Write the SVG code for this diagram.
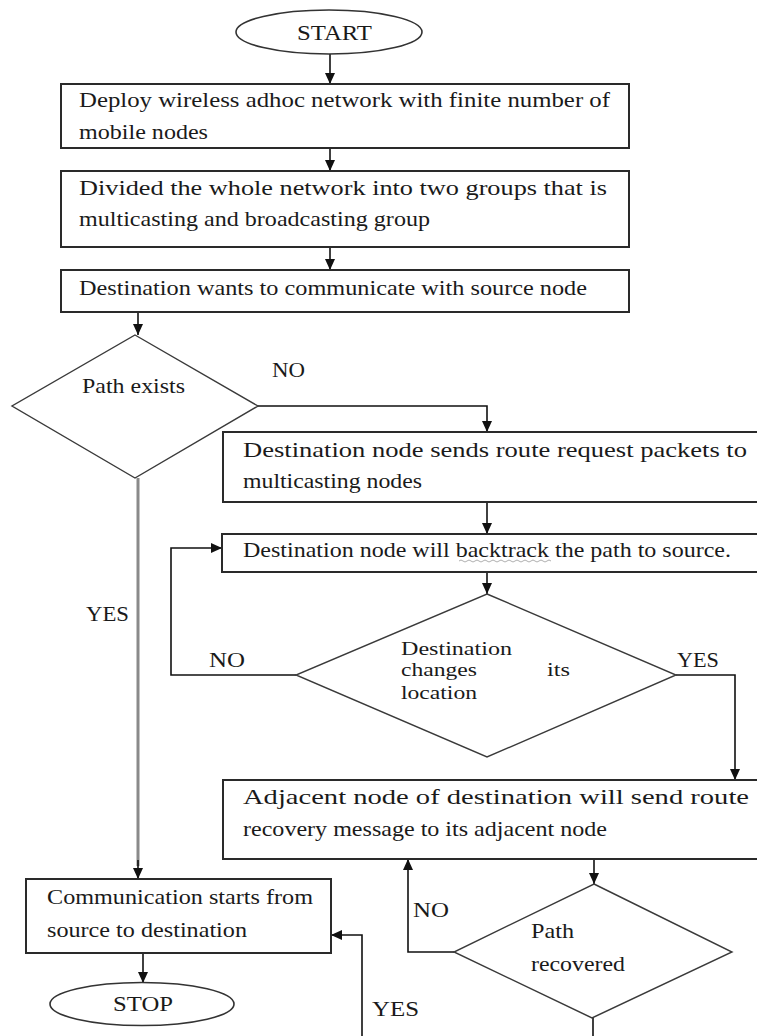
<svg xmlns="http://www.w3.org/2000/svg" width="757" height="1036" viewBox="0 0 757 1036">
<defs>
<marker id="arr" markerUnits="userSpaceOnUse" markerWidth="12" markerHeight="12" viewBox="0 0 12 12" refX="11" refY="6" orient="auto">
<path d="M0,1 L11,6 L0,11 Z" fill="#111"/>
</marker>
<style>
.box{fill:#fff;stroke:#2a2a2a;stroke-width:2}
.dia{fill:#fff;stroke:#3a3a3a;stroke-width:1.4}
.ell{fill:#fff;stroke:#333;stroke-width:1.6}
text{font-family:'Liberation Serif','Tinos','Times New Roman','DejaVu Serif',serif;fill:#1a1a1a}
.t{font-size:21px}
.s{font-size:19px}
.c{fill:none;stroke:#111;stroke-width:1.6}
.g{fill:none;stroke:#8a8a8a;stroke-width:3}
</style>
</defs>
<rect width="757" height="1036" fill="#fff"/>

<g id="connectors">
<path class="c" d="M330,54 V84" marker-end="url(#arr)"/>
<path class="c" d="M330,148 V171" marker-end="url(#arr)"/>
<path class="c" d="M330,247 V270" marker-end="url(#arr)"/>
<path class="c" d="M138,312 V335" marker-end="url(#arr)"/>
<path class="c" d="M258,406 H487 V432" marker-end="url(#arr)"/>
<path class="c" d="M487,502 V534" marker-end="url(#arr)"/>
<path class="c" d="M487,572 V594" marker-end="url(#arr)"/>
<path class="c" d="M296,675 H171 V548 H222" marker-end="url(#arr)"/>
<path class="c" d="M676,675 H735 V780" marker-end="url(#arr)"/>
<path class="c" d="M594,859 V884" marker-end="url(#arr)"/>
<path class="c" d="M454,952 H408 V859" marker-end="url(#arr)"/>
<path class="c" d="M593,1018 V1050 H362 V935 H331" marker-end="url(#arr)"/>
<path class="g" d="M138,478 V866"/>
<path class="c" d="M138,860 V879" marker-end="url(#arr)"/>
<path class="c" d="M143,953 V983" marker-end="url(#arr)"/>
</g>

<g id="start">
<ellipse class="ell" cx="329" cy="32" rx="93" ry="22"/>
<text class="t" x="297" y="40" font-family="Liberation Serif, serif" textLength="75" lengthAdjust="spacingAndGlyphs">START</text>
</g>

<g id="deploy">
<rect class="box" x="61" y="84" width="568" height="64"/>
<text class="t" x="79" y="107" textLength="531" lengthAdjust="spacingAndGlyphs">Deploy wireless adhoc network with finite number of</text>
<text class="t" x="79" y="139" textLength="129" lengthAdjust="spacingAndGlyphs">mobile nodes</text>
</g>

<g id="divide">
<rect class="box" x="61" y="171" width="568" height="76"/>
<text class="t" x="79" y="195" textLength="528" lengthAdjust="spacingAndGlyphs">Divided the whole network into two groups that is</text>
<text class="t" x="79" y="226" textLength="351" lengthAdjust="spacingAndGlyphs">multicasting and broadcasting group</text>
</g>

<g id="wants">
<rect class="box" x="61" y="270" width="568" height="42"/>
<text class="t" x="79" y="295" textLength="508" lengthAdjust="spacingAndGlyphs">Destination wants to communicate with source node</text>
</g>

<g id="path-exists">
<polygon class="dia" points="135,335 258,406 135,478 12,406"/>
<text class="t" x="82" y="393" textLength="103" lengthAdjust="spacingAndGlyphs">Path exists</text>
</g>

<g id="route-request">
<rect class="box" x="223" y="432" width="545" height="70"/>
<text class="t" x="243" y="457" textLength="504" lengthAdjust="spacingAndGlyphs">Destination node sends route request packets to</text>
<text class="t" x="243" y="488" textLength="179" lengthAdjust="spacingAndGlyphs">multicasting nodes</text>
</g>

<g id="backtrack">
<rect class="box" x="222" y="534" width="546" height="38"/>
<text class="t" x="243" y="557" textLength="488" lengthAdjust="spacingAndGlyphs">Destination node will backtrack the path to source.</text>
<path d="M459,561 q2,-2 4,0 t4,0 t4,0 t4,0 t4,0 t4,0 t4,0 t4,0 t4,0 t4,0 t4,0 t4,0 t4,0 t4,0 t4,0 t4,0 t4,0 t4,0 t4,0 t4,0 t4,0 t4,0 t4,0" fill="none" stroke="#999" stroke-width="0.8"/>
</g>

<g id="changes-location">
<polygon class="dia" points="487,594 676,675 487,757 296,675"/>
<text class="s" x="401" y="655" textLength="111" lengthAdjust="spacingAndGlyphs">Destination</text>
<text class="s" x="401" y="676" textLength="76" lengthAdjust="spacingAndGlyphs">changes</text>
<text class="s" x="547" y="676" textLength="23" lengthAdjust="spacingAndGlyphs">its</text>
<text class="s" x="401" y="699" textLength="76" lengthAdjust="spacingAndGlyphs">location</text>
</g>

<g id="adjacent">
<rect class="box" x="223" y="780" width="545" height="79"/>
<text class="t" x="243" y="804" textLength="506" lengthAdjust="spacingAndGlyphs">Adjacent node of destination will send route</text>
<text class="t" x="243" y="836" textLength="364" lengthAdjust="spacingAndGlyphs">recovery message to its adjacent node</text>
</g>

<g id="path-recovered">
<polygon class="dia" points="594,884 732,952 592,1018 454,952"/>
<text class="t" x="531" y="938" textLength="43" lengthAdjust="spacingAndGlyphs">Path</text>
<text class="t" x="531" y="971" textLength="94" lengthAdjust="spacingAndGlyphs">recovered</text>
</g>

<g id="communication">
<rect class="box" x="26" y="879" width="305" height="74"/>
<text class="t" x="47" y="904" textLength="266" lengthAdjust="spacingAndGlyphs">Communication starts from</text>
<text class="t" x="47" y="937" textLength="200" lengthAdjust="spacingAndGlyphs">source to destination</text>
</g>

<g id="stop">
<ellipse class="ell" cx="142" cy="1004" rx="92" ry="21.5"/>
<text class="t" x="113" y="1011" textLength="60" lengthAdjust="spacingAndGlyphs">STOP</text>
</g>

<g id="labels">
<text class="t" x="272" y="377" textLength="33" lengthAdjust="spacingAndGlyphs">NO</text>
<text class="t" x="86" y="621" textLength="43" lengthAdjust="spacingAndGlyphs">YES</text>
<text class="t" x="209" y="667" textLength="36" lengthAdjust="spacingAndGlyphs">NO</text>
<text class="t" x="677" y="667" textLength="42" lengthAdjust="spacingAndGlyphs">YES</text>
<text class="t" x="413" y="917" textLength="36" lengthAdjust="spacingAndGlyphs">NO</text>
<text class="t" x="372" y="1016" textLength="47" lengthAdjust="spacingAndGlyphs">YES</text>
</g>
</svg>
